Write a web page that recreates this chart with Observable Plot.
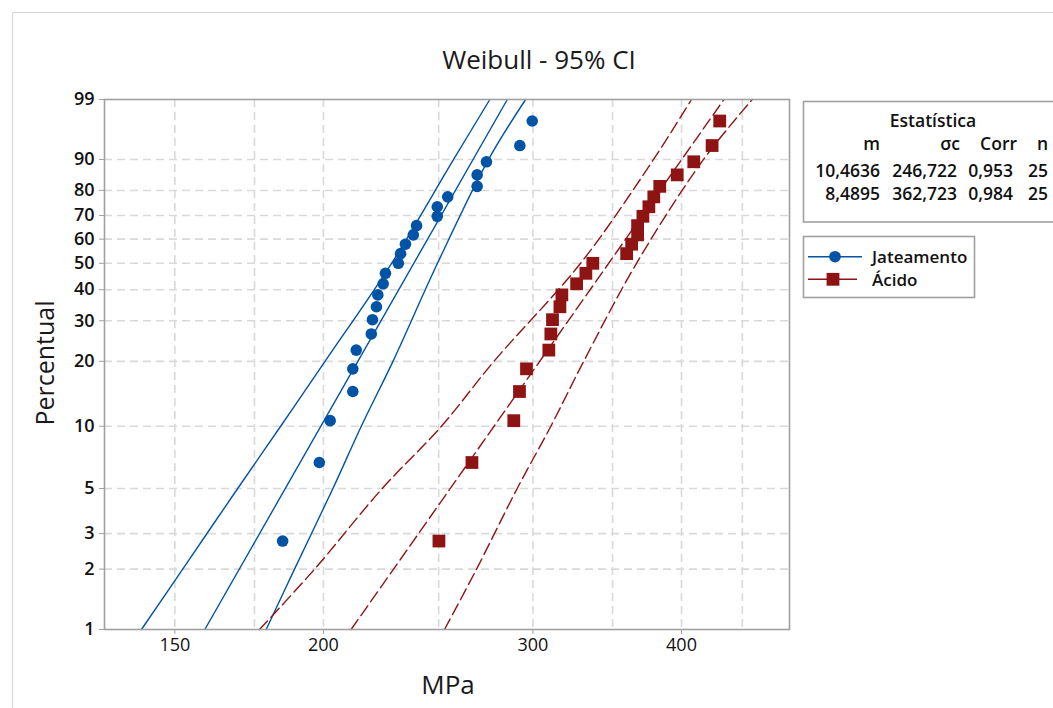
<!DOCTYPE html>
<html><head><meta charset="utf-8">
<script src="https://cdn.jsdelivr.net/npm/d3@7"></script>
<script src="https://cdn.jsdelivr.net/npm/@observablehq/plot@0.6"></script>
<style>
body{margin:0;background:#fff;}
#wrap{position:relative;width:1053px;height:708px;overflow:hidden;background:#fff;font-family:"Open Sans",sans-serif;}
#wrap svg{position:absolute;left:0;top:0;}
</style></head>
<body><div id="wrap"></div>
<script>
// ---- data ----
const seriesNames = ["Jateamento", "Ácido"];
const plotPct = [2.756, 6.693, 10.630, 14.567, 18.504, 22.441, 26.378, 30.315, 34.252, 38.189, 42.126, 46.063, 50.0,
  53.937, 57.874, 61.811, 65.748, 69.685, 73.622, 77.559, 81.496, 85.433, 89.370, 93.307, 97.244];
const jatMPa = [184.8, 198.4, 202.6, 211.7, 211.7, 213.1, 219.4, 219.9, 221.6, 222.2, 224.5, 225.5, 231.2,
  232.2, 234.4, 238.0, 239.5, 249.3, 249.3, 254.4, 269.3, 269.3, 274.2, 292.5, 299.6];
const acidoMPa = [250.1, 266.6, 289.1, 292.3, 296.3, 309.4, 310.6, 311.6, 316.1, 317.3, 326.5, 332.4, 336.9,
  359.7, 363.2, 367.4, 367.4, 371.2, 375.5, 379.1, 383.5, 396.7, 409.6, 424.4, 430.7];
// 95% CI bands (MPa) read at these percent levels
const bandPct = [1, 2, 5, 10, 20, 50, 90, 99];
const jatLower = [140.6, 152.3, 169.4, 184.1, 200.6, 228.2, 257.3, 276.0];
const jatUpper = [179.0, 189.1, 203.7, 215.2, 228.8, 249.4, 275.3, 295.8];
const acidoLower = [176.7, 196.6, 224.1, 251.3, 278.2, 329.0, 378.9, 407.8];
const acidoUpper = [252.8, 269.0, 291.0, 310.6, 331.0, 366.6, 417.4, 458.7];
// Weibull parameters (shape m, scale σc)
const shapeM = [10.4636, 8.4895];
const scaleS = [246.722, 362.723];
const fitPct = [1, 99];
// ticks & legend text
const yTickPct = [1, 2, 3, 5, 10, 20, 30, 40, 50, 60, 70, 80, 90, 99];
const xTicks = [150, 200, 300, 400];
const xGrid = [150, 175, 200, 250, 300, 350, 400, 450];
const statTitle = "Estatística";
const statHeader = ["m", "σc", "Corr", "n"];
const statRows = [["10,4636", "246,722", "0,953", "25"], ["8,4895", "362,723", "0,984", "25"]];
const colors = ["#0053a5", "#8e1414"];

// ---- helpers ----
const wb = p => Math.log(-Math.log(1 - p / 100));
const yLabel = new Map(yTickPct.map(p => [wb(p), String(p)]));

const pts = seriesNames.map((s, k) => (k === 0 ? jatMPa : acidoMPa).map((x, i) => ({s, x, p: plotPct[i]})));
const bands = seriesNames.map((s, k) => {
  const lo = k === 0 ? jatLower : acidoLower, hi = k === 0 ? jatUpper : acidoUpper;
  return [...bandPct.map((p, i) => ({s, side: "lo", x: lo[i], p})), ...bandPct.map((p, i) => ({s, side: "hi", x: hi[i], p}))];
});
const fits = seriesNames.map((s, k) => fitPct.map(p => ({s, side: "fit", p, x: scaleS[k] * Math.pow(-Math.log(1 - p / 100), 1 / shapeM[k])})));

const gridStyle = {stroke: "#d9d9d9", strokeWidth: 1.6, strokeDasharray: "8,5"};

const chart = Plot.plot({
  width: 1053, height: 708,
  marginLeft: 104, marginRight: 264, marginTop: 99, marginBottom: 79,
  style: {fontFamily: "Open Sans, sans-serif", fontSize: "18px", background: "transparent", overflow: "visible"},
  x: {type: "log", domain: [130.9, 493]},
  y: {domain: [wb(1), wb(99)]},
  marks: [
    Plot.ruleX(xGrid, {...gridStyle}),
    Plot.ruleY(yTickPct.slice(1, -1), {y: d => wb(d), ...gridStyle}),
    Plot.line([...bands[0], ...fits[0]], {x: "x", y: d => wb(d.p), z: "side", stroke: colors[0], strokeWidth: 1.4, curve: "catmull-rom"}),
    Plot.line([...bands[1], ...fits[1]], {x: "x", y: d => wb(d.p), z: "side", stroke: colors[1], strokeWidth: 1.4, strokeDasharray: "12,5", curve: "catmull-rom"}),
    Plot.dot(pts[0], {x: "x", y: d => wb(d.p), r: 5.8, fill: colors[0], stroke: null}),
    Plot.dot(pts[1], {x: "x", y: d => wb(d.p), r: 7.2, symbol: "square", fill: colors[1], stroke: null}),
    Plot.frame({stroke: "#a0a0a0", strokeWidth: 1.6}),
    Plot.axisX(xTicks, {tickSize: 5, tickPadding: 4, fontSize: 18, stroke: "#a0a0a0", fill: "#111", label: null, tickFormat: d => String(d)}),
    Plot.axisY(yTickPct.map(wb), {tickSize: 5, tickPadding: 5, fontSize: 18, fontWeight: 600, stroke: "#a0a0a0", fill: "#111", label: null, tickFormat: v => yLabel.get(v)})
  ]
});
document.getElementById("wrap").appendChild(chart);

// ---- overlay: titles and legend boxes ----
const ov = d3.select("#wrap").append("svg").attr("width", 1053).attr("height", 708)
  .style("font-family", "Open Sans, sans-serif");
ov.append("path").attr("d", "M12.5,708V12.5H1053").attr("fill", "none").attr("stroke", "#d4d4d4");
ov.append("text").attr("x", 539).attr("y", 69).attr("text-anchor", "middle").attr("font-size", 26).attr("fill", "#1a1a1a").text("Weibull - 95% CI");
ov.append("text").attr("transform", "translate(54,363) rotate(-90)").attr("text-anchor", "middle").attr("font-size", 25).attr("font-weight", 500).attr("fill", "#1a1a1a").text("Percentual");
ov.append("text").attr("x", 448).attr("y", 694).attr("text-anchor", "middle").attr("font-size", 26).attr("fill", "#1a1a1a").text("MPa");

// statistics box
ov.append("rect").attr("x", 803.5).attr("y", 101.5).attr("width", 400).attr("height", 120.5).attr("fill", "#fff").attr("stroke", "#a0a0a0").attr("stroke-width", 1.6);
const tg = ov.append("g").attr("font-size", 17.5).attr("font-weight", 600).attr("fill", "#111");
tg.append("text").attr("x", 933).attr("y", 126.5).attr("text-anchor", "middle").text(statTitle);
const hdrX = [880, 960, 1017, 1048], colX = [880, 957, 1013, 1048];
statHeader.forEach((h, i) => tg.append("text").attr("x", hdrX[i]).attr("y", 150).attr("text-anchor", "end").text(h));
statRows.forEach((row, r) => row.forEach((v, i) => tg.append("text").attr("x", colX[i]).attr("y", 176.5 + r * 23.5).attr("text-anchor", "end").text(v)));

// series legend
ov.append("rect").attr("x", 803.5).attr("y", 236.5).attr("width", 171).attr("height", 61).attr("fill", "#fff").attr("stroke", "#a0a0a0").attr("stroke-width", 1.6);
const ly = [256.7, 279.3];
ov.append("line").attr("x1", 808).attr("x2", 862).attr("y1", ly[0]).attr("y2", ly[0]).attr("stroke", colors[0]).attr("stroke-width", 1.6);
ov.append("circle").attr("cx", 835).attr("cy", ly[0]).attr("r", 5.8).attr("fill", colors[0]);
ov.append("line").attr("x1", 808).attr("x2", 857).attr("y1", ly[1]).attr("y2", ly[1]).attr("stroke", colors[1]).attr("stroke-width", 1.6);
ov.append("rect").attr("x", 833 - 6.4).attr("y", ly[1] - 6.4).attr("width", 12.8).attr("height", 12.8).attr("fill", colors[1]);
const lg = ov.append("g").attr("font-size", 17).attr("font-weight", 600).attr("fill", "#111");
seriesNames.forEach((s, i) => lg.append("text").attr("x", 872).attr("y", ly[i] + 6.2).text(s));
</script>
</body></html>
